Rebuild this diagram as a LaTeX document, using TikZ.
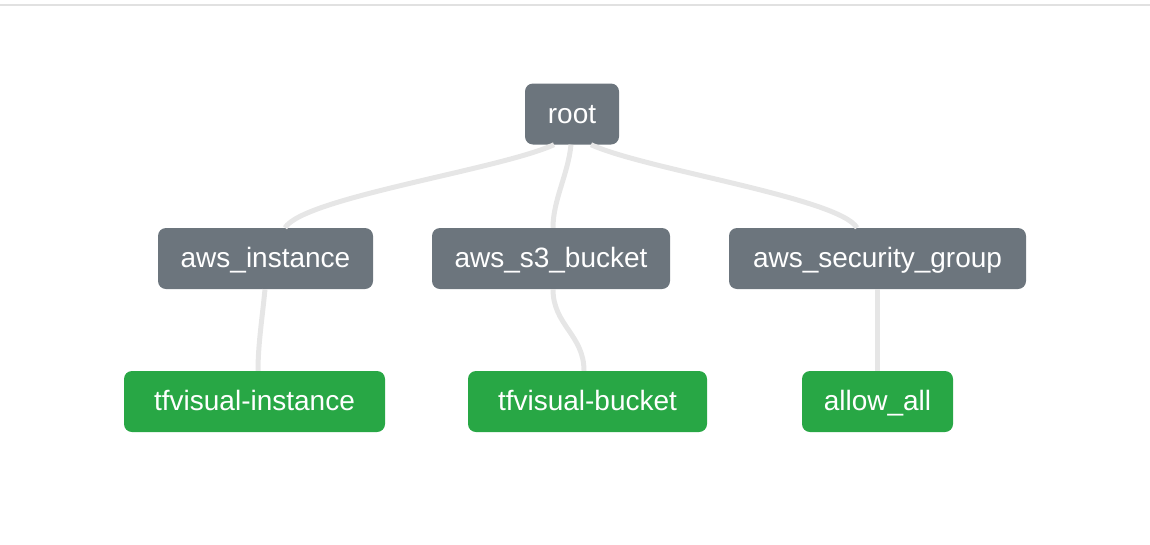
\documentclass[tikz,border=0pt]{standalone}
\usepackage{fontspec}
\setmainfont{Liberation Sans}
\definecolor{resgray}{HTML}{6C757D}
\definecolor{resgreen}{HTML}{28A745}
\definecolor{linkgray}{HTML}{E6E6E6}
\definecolor{rulegray}{HTML}{E1E1E1}

\begin{document}
\begin{tikzpicture}[x=1pt, y=-1pt,
    every node/.style={rounded corners=8pt, text=white, inner sep=0pt,
      minimum height=61pt, text height=22pt, text depth=4pt,
      font=\fontsize{28}{32}\selectfont},
    typebox/.style={fill=resgray}, namebox/.style={fill=resgreen},
    link/.style={draw=linkgray, line width=5pt}]

    \useasboundingbox (0,0) rectangle (1150,544);
    \draw[rulegray, line width=2pt] (0,4.5) -- (1150,4.5);

    % Nodes
    \node[typebox, minimum width=94pt] (root) at (572,114) {root};
    \node[typebox, minimum width=215pt] (instance) at (265.5,258.5) {aws\_instance};
    \node[typebox, minimum width=238pt] (bucket) at (551,258.5) {aws\_s3\_bucket};
    \node[typebox, minimum width=297pt] (secgroup) at (877.5,258.5) {aws\_security\_group};
    \node[namebox, minimum width=261pt] (tfinstance) at (254.5,401.5) {tfvisual-instance};
    \node[namebox, minimum width=239pt] (tfbucket) at (587.5,401.5) {tfvisual-bucket};
    \node[namebox, minimum width=151pt] (allowall) at (877.5,401.5) {allow\_all};

    % Lines
    \draw[link] ([xshift=-18pt]root.south) .. controls +(-55,25) and +(18,-30) .. ([xshift=19.5pt]instance.north);
    \draw[link] ([xshift=-1pt]root.south) .. controls +(-3,30) and +(0,-28) .. ([xshift=2pt]bucket.north);
    \draw[link] ([xshift=19pt]root.south) .. controls +(55,25) and +(-18,-30) .. ([xshift=-20.5pt]secgroup.north);

    \draw[link] ([xshift=-0.5pt]instance.south) .. controls +(-3,31) and +(0,-26) .. ([xshift=3.5pt]tfinstance.north);
    \draw[link] ([xshift=2pt]bucket.south) .. controls +(0,36) and +(0,-36) .. ([xshift=-3.5pt]tfbucket.north);
    \draw[link] (secgroup) -- (allowall);

\end{tikzpicture}
\end{document}
